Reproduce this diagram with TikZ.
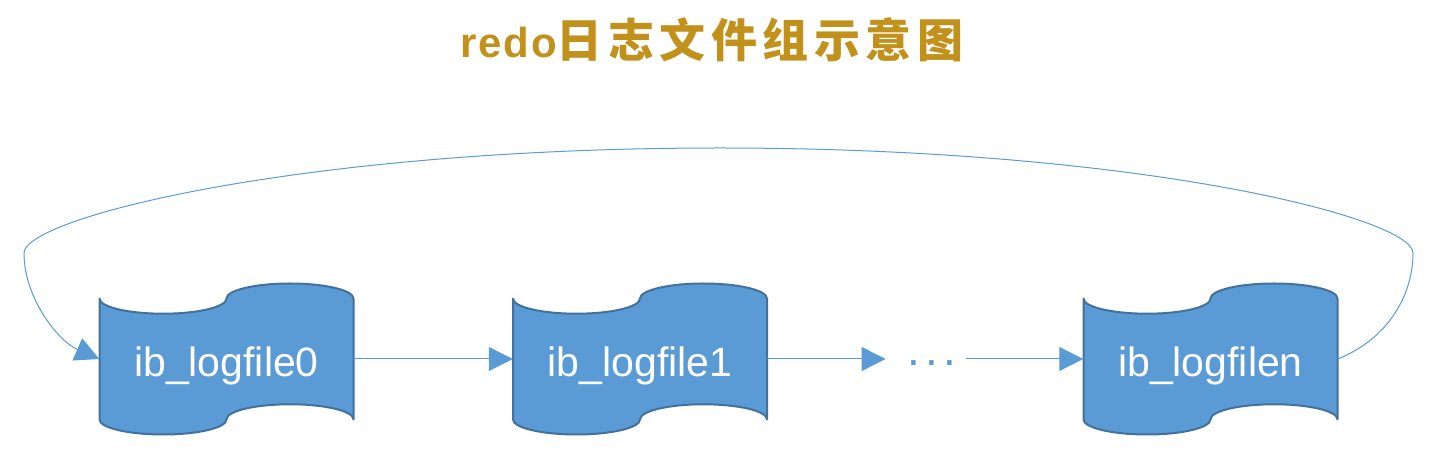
\documentclass[tikz,border=0pt]{standalone}
\usepackage{fontspec}
\setmainfont{Liberation Sans}
\newfontfamily\cjk{Noto Sans CJK SC}
\newfontfamily\redofont{Liberation Sans}
\usetikzlibrary{arrows.meta}
\usetikzlibrary{backgrounds}
\definecolor{tapeblue}{RGB}{91,155,213}
\definecolor{tapeedge}{RGB}{65,113,156}
\definecolor{titlegold}{RGB}{194,145,28}
\newcommand{\tapeshape}[1]% node name
{\draw[tape, shift={(#1.center)}] (-127,60.4) arc (180:360:63.5 and 15.1)
 arc (180:0:63.5 and 15.1) -- (127,-60.4) arc (0:180:63.5 and 15.1)
 arc (0:-180:63.5 and 15.1) -- cycle;
}
\tikzset{
	tape/.style={fill=tapeblue, draw=tapeedge, line width=2pt, line join=round},
	logfile/.style={minimum width=254pt, minimum height=151pt, inner sep=0pt,
		text=white, font=\fontsize{41}{41}\selectfont, text height=40pt, text depth=4pt},
	flow/.style={draw=tapeblue, line width=1pt, -{Triangle[length=24pt, width=24pt]}}
}

\begin{document}
\begin{tikzpicture}[x=1pt, y=1pt]
	\useasboundingbox (0,0) rectangle (1438,468);
	\node[anchor=base, text=titlegold] (title) at (712,410)
		{{\redofont\bfseries\fontsize{42}{42}\selectfont\addfontfeature{LetterSpace=4}redo}{\cjk\bfseries\fontsize{46}{46}\selectfont\addfontfeature{LetterSpace=12}日志文件组示意图}};
	\node[logfile] (log0) at (226.5,109) {ib\_logfile0};
	\node[logfile] (log1) at (640,109) {ib\_logfile1};
	\node[logfile] (logn) at (1210.5,109) {ib\_logfilen};
	\node[text=tapeblue, inner sep=0pt, text height=14pt, text depth=0pt,
		font=\fontsize{46}{46}\selectfont\addfontfeature{LetterSpace=11}] (dots) at (932,109) {...};
	\begin{scope}[on background layer]
		\tapeshape{log0}
		\tapeshape{log1}
		\tapeshape{logn}
	\end{scope}
	% arrows along the row
	\draw[flow] (log0.east) -- (log1.west);
	\draw[flow, shorten >=22pt] (log1.east) -- (dots.west);
	\draw[flow, shorten <=10pt] (dots.east) -- (logn.west);
	% loop back to the first file
	\coordinate (loopR) at (1413,215);
	\coordinate (loopT) at (720,320);
	\coordinate (loopL) at (24,215);
	\draw[flow] (logn.east) .. controls (1390,130) and (1413,175) .. (loopR)
		.. controls (1413,250) and (1140,320) .. (loopT)
		.. controls (300,320) and (24,250) .. (loopL)
		.. controls (24,170) and (58,127) .. (log0.west);
\end{tikzpicture}
\end{document}
